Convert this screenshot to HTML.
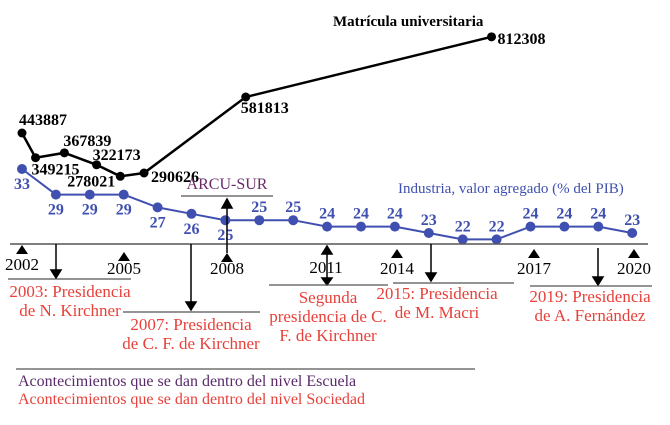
<!DOCTYPE html>
<html><head><meta charset="utf-8"><style>
html,body{margin:0;padding:0;background:#fff;}
svg{display:block;font-family:"Liberation Serif",serif;}
</style></head><body>
<svg width="670" height="425" viewBox="0 0 670 425">
<g id="marks"></g>
<g>
<line x1="10" y1="244" x2="648" y2="244" stroke="#555" stroke-width="1.5"/>
</g>
<g id="ticks"></g>
<g stroke="#000" stroke-width="1.5" fill="#000">
<line x1="56" y1="244" x2="56" y2="274"/><polygon points="51,270 61,270 56,278"/>
<line x1="191" y1="244" x2="191" y2="306"/><polygon points="186,302 196,302 191,310"/>
<line x1="227" y1="253" x2="227" y2="206"/><polygon points="222,208 232,208 227,199"/>
<line x1="327" y1="252" x2="327" y2="280"/><polygon points="322,254 332,254 327,246"/><polygon points="322,278 332,278 327,285"/>
<line x1="431" y1="244" x2="431" y2="276"/><polygon points="426,273 436,273 431,281"/>
<line x1="598" y1="248" x2="598" y2="280"/><polygon points="593,277 603,277 598,285"/>
</g>
<g stroke="#555" stroke-width="1.2">
<line x1="8" y1="279" x2="131" y2="279"/>
<line x1="123" y1="312" x2="260" y2="312"/>
<line x1="269" y1="285" x2="388" y2="285"/>
<line x1="393" y1="283" x2="514" y2="283"/>
<line x1="530" y1="286" x2="652" y2="286"/>
<line x1="181" y1="196" x2="273" y2="196"/>
<line x1="16" y1="369" x2="475" y2="369"/>
</g>
<g fill="#e8403a" font-size="17" text-anchor="middle">
<text x="70" y="297"><tspan x="70">2003: Presidencia</tspan><tspan x="70" y="316">de N. Kirchner</tspan></text>
<text x="191" y="330"><tspan x="191">2007: Presidencia</tspan><tspan x="191" y="349">de C. F. de Kirchner</tspan></text>
<text x="328" y="303"><tspan x="328">Segunda</tspan><tspan x="328" y="322">presidencia de C.</tspan><tspan x="328" y="341">F. de  Kirchner</tspan></text>
<text x="437" y="299"><tspan x="437">2015: Presidencia</tspan><tspan x="437" y="318">de M. Macri</tspan></text>
<text x="590" y="302"><tspan x="590">2019: Presidencia</tspan><tspan x="590" y="321">de A. Fernández</tspan></text>
</g>
<text x="227" y="189" fill="#6a2a6a" font-size="16" text-anchor="middle">ARCU-SUR</text>
<text x="18" y="386" fill="#5a2a6a" font-size="16">Acontecimientos que se dan dentro del nivel Escuela</text>
<text x="18" y="404" fill="#e8403a" font-size="16">Acontecimientos que se dan dentro del nivel Sociedad</text>
<text x="333" y="26" font-size="15" font-weight="bold">Matrícula universitaria</text>
<text x="398" y="193" font-size="15" fill="#4050b0">Industria, valor agregado (% del PIB)</text>
</svg>
<script>
const years=[2002,2003,2004,2005,2006,2007,2008,2009,2010,2011,2012,2013,2014,2015,2016,2017,2018,2019,2020];
const industria=[33,29,29,29,27,26,25,25,25,24,24,24,23,22,22,24,24,24,23];
const matriculaT=[2002,2002.4,2003.25,2004.2,2004.9,2005.6,2008.6,2015.85];
const matricula=[443887,349215,367839,322173,278021,290626,581813,812308];
const tickYears=[2002,2005,2008,2011,2014,2017,2020];
const tickLabels=["2002","2005","2008","2011","2014","2017","2020"];
const NS="http://www.w3.org/2000/svg";
const xS=y=>22+(y-2002)*33.9;
const yInd=v=>169+(33-v)*6.4;
const yMat=v=>133-(v-443887)*0.000261;
const marks=document.getElementById('marks');
function mk(t,a,p){const e=document.createElementNS(NS,t);for(const k in a)e.setAttribute(k,a[k]);(p||marks).appendChild(e);return e;}
// industria
const ip=industria.map((v,i)=>xS(years[i])+","+yInd(v)).join(" ");
const il=mk('polyline',{points:ip,fill:'none',stroke:'#4050b0','stroke-width':2});


industria.forEach((v,i)=>{
 const c=mk('circle',{cx:xS(years[i]),cy:yInd(v),r:5,fill:'#4050b0'});
 
 
 const below=i<=6;
 const t=mk('text',{x:xS(years[i]),y:yInd(v)+(below?20:-8),'text-anchor':'middle','font-size':16,'font-weight':'bold',fill:'#4050b0'});
 t.textContent=v;
 
 
});
// matricula
const mp=matricula.map((v,i)=>xS(matriculaT[i])+","+yMat(v)).join(" ");
const ml=mk('polyline',{points:mp,fill:'none',stroke:'#000','stroke-width':2.5});


const ldx=[-3,-4,-1,-4,-53,7,-5,6];
const ldy=[-8,17,-7,-5,10,9,16,7];
matricula.forEach((v,i)=>{
 const x=xS(matriculaT[i]),y=yMat(v);
 const c=mk('circle',{cx:x,cy:y,r:4.5,fill:'#000'});
 
 
 const t=mk('text',{x:x+ldx[i],y:y+ldy[i],'font-size':16,'font-weight':'bold'});
 t.textContent=v;
 
 
});
// ticks
const tg=document.getElementById('ticks');
const tTop=[245,252,253,246,249,249,249];
const lY=[270,274,274,273,274,274,274];
const tx=[22,124,227,326,397,534,634];
tickYears.forEach((y,i)=>{
 const x=tx[i];
 if(i!==3){
  const p=mk('polygon',{points:`${x-6},${tTop[i]+9} ${x+6},${tTop[i]+9} ${x},${tTop[i]}`,fill:'#000'},tg);
  
  
 }
 const t=mk('text',{x:x,y:lY[i],'text-anchor':'middle','font-size':17},tg);
 t.textContent=tickLabels[i];
 
 
});
</script>
</body></html>
